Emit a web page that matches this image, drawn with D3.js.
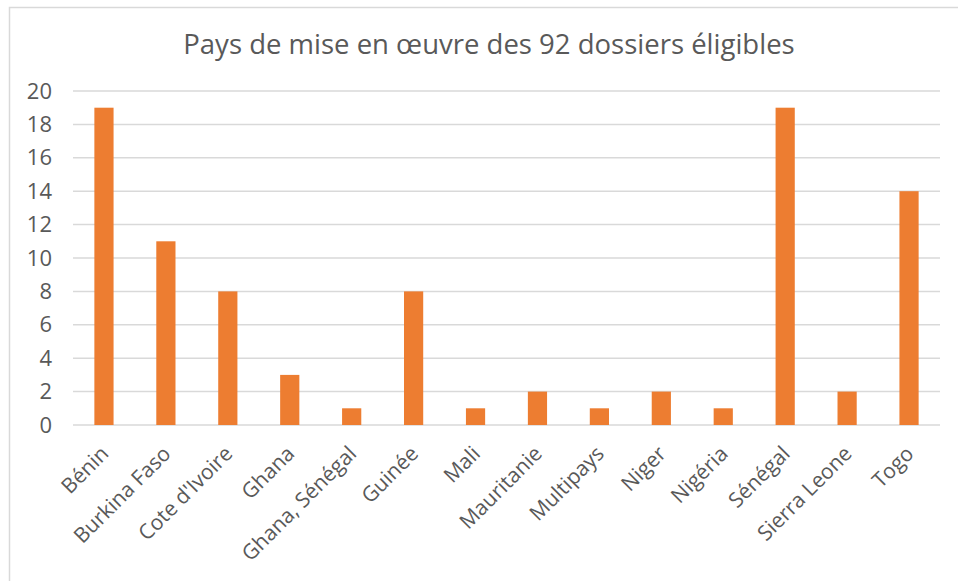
<!DOCTYPE html>
<html>
<head>
<meta charset="utf-8">
<title>Pays de mise en œuvre des 92 dossiers éligibles</title>
<script src="https://d3js.org/d3.v7.min.js"></script>
<style>
  body { margin: 0; background: #fff; }
  text { font-family: "Open Sans", sans-serif; fill: #595959; }
</style>
</head>
<body>
<div id="chart"></div>
<script>
const title = "Pays de mise en œuvre des 92 dossiers éligibles";
const countries = ["Bénin", "Burkina Faso", "Cote d'Ivoire", "Ghana", "Ghana, Sénégal", "Guinée",
  "Mali", "Mauritanie", "Multipays", "Niger", "Nigéria", "Sénégal", "Sierra Leone", "Togo"];
const counts = [19, 11, 8, 3, 1, 8, 1, 2, 1, 2, 1, 19, 2, 14];
const yTicks = [0, 2, 4, 6, 8, 10, 12, 14, 16, 18, 20];

const W = 958, H = 581;
const margin = { top: 91, right: 18, bottom: 156, left: 73 };
const innerW = W - margin.left - margin.right;
const innerH = H - margin.top - margin.bottom;

const svg = d3.select("#chart").append("svg")
  .attr("width", W).attr("height", H);

// chart frame
svg.append("rect")
  .attr("x", 9.5).attr("y", 7.5)
  .attr("width", 960).attr("height", 600)
  .attr("fill", "none").attr("stroke", "#d9d9d9").attr("stroke-width", 1.5);

svg.append("text")
  .attr("x", 489).attr("y", 54)
  .attr("text-anchor", "middle")
  .style("font-size", "27.5px")
  .text(title);

const g = svg.append("g").attr("transform", `translate(${margin.left},${margin.top})`);

const x = d3.scaleBand().domain(countries).range([0, innerW]).paddingInner(0.69).paddingOuter(0.345);
const y = d3.scaleLinear().domain([0, 20]).range([innerH, 0]);

// gridlines
g.append("g").selectAll("line").data(yTicks).join("line")
  .attr("x1", 0).attr("x2", innerW)
  .attr("y1", d => y(d)).attr("y2", d => y(d))
  .attr("stroke", "#d9d9d9").attr("stroke-width", 1.5);

// y axis labels
const yAxis = g.append("g").call(d3.axisLeft(y).tickValues(yTicks).tickSize(0).tickPadding(21));
yAxis.select(".domain").remove();
yAxis.selectAll("text").style("font-size", "22px").attr("fill", "#595959");

// bars
g.append("g").selectAll("rect").data(countries).join("rect")
  .attr("x", d => x(d))
  .attr("width", x.bandwidth())
  .attr("y", (d, i) => y(counts[i]))
  .attr("height", (d, i) => y(0) - y(counts[i]))
  .attr("fill", "#ed7d31");

// x axis labels, rotated
const xAxis = g.append("g").attr("transform", `translate(0,${innerH})`)
  .call(d3.axisBottom(x).tickSize(0).tickPadding(0));
xAxis.select(".domain").remove();
xAxis.selectAll("text")
  .style("font-size", "21px").attr("fill", "#595959")
  .attr("text-anchor", "end")
  .attr("y", 0).attr("dy", 0)
  .attr("transform", "translate(6,30) rotate(-45)");
</script>
</body>
</html>
